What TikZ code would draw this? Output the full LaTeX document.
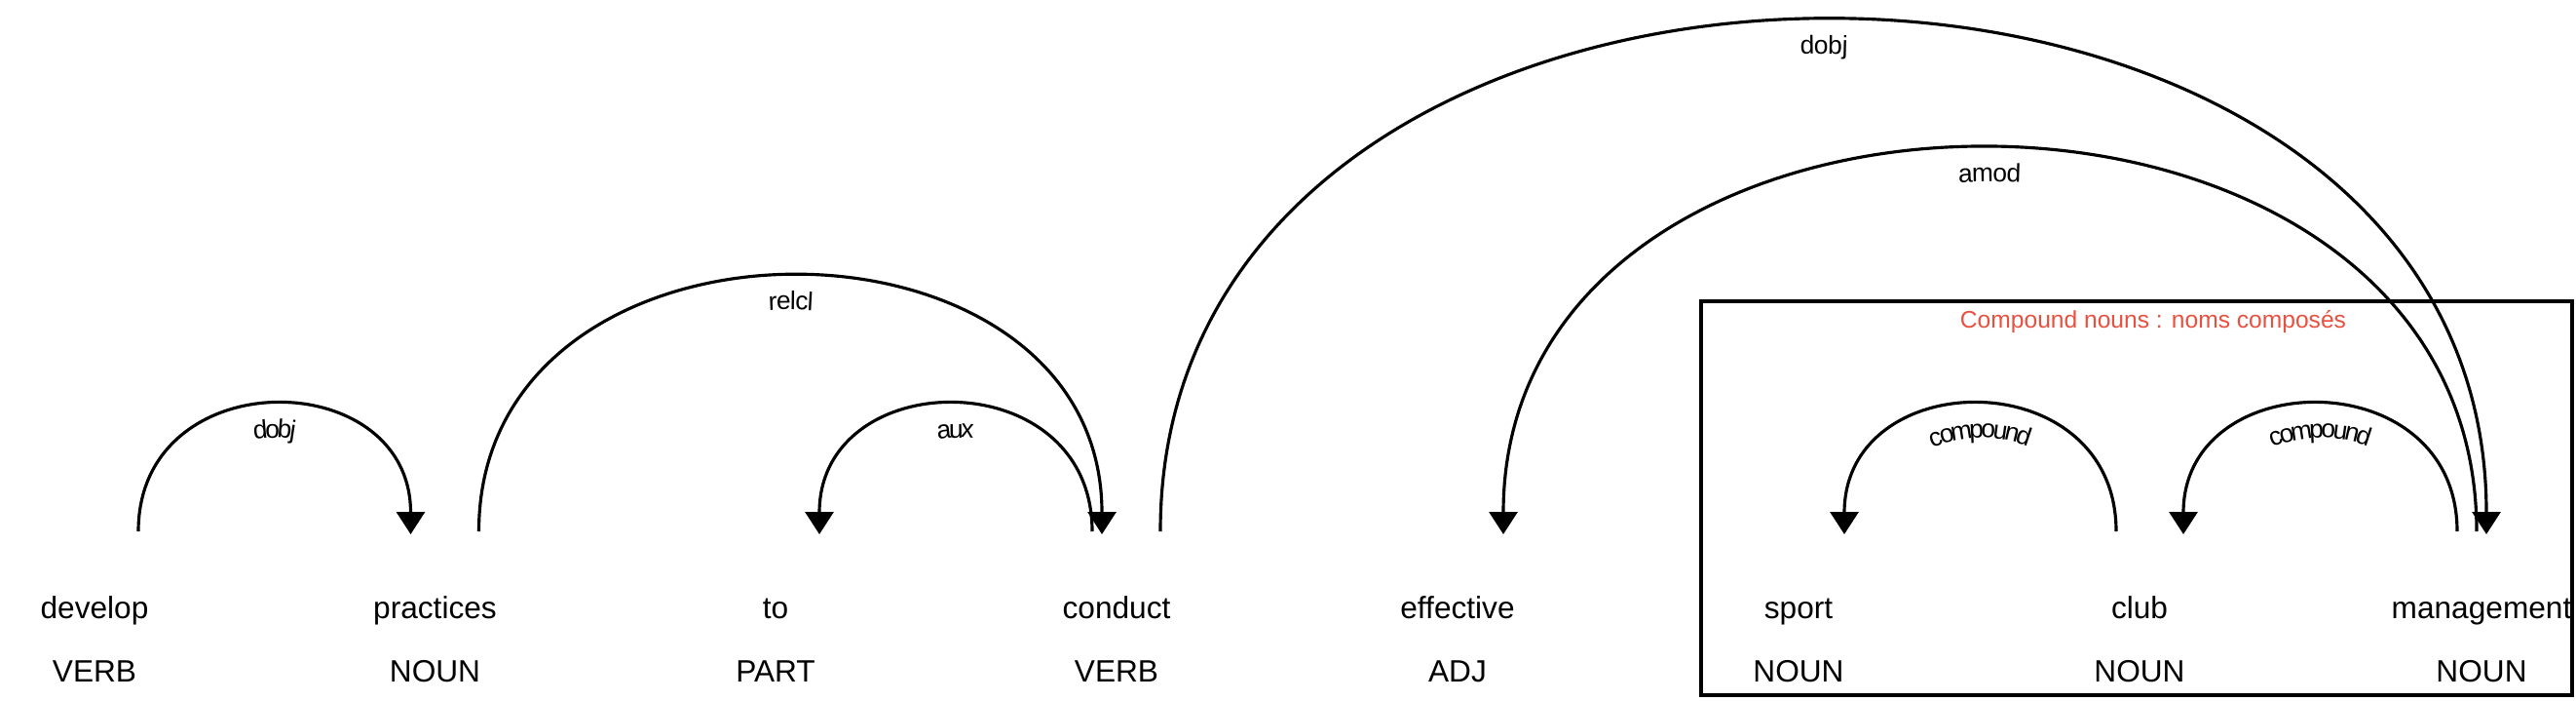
\documentclass[tikz,border=0pt]{standalone}
\usepackage{fontspec}
\setmainfont{Liberation Sans}
\usepackage{xcolor}
\usepackage{tikz}
\usetikzlibrary{arrows.meta, positioning, decorations.text}

\definecolor{cmpred}{HTML}{E8503F}

\begin{document}
\begin{tikzpicture}[
    word/.style={anchor=base, inner sep=0pt, font=\fontsize{9}{11}\selectfont},
    arc/.style={line width=0.9pt},
    lbl/.style={postaction={decorate, decoration={text along path,
        text align=center, raise=-9.6pt,
        text={|\fontsize{7.5}{8}\selectfont|#1}}}},
    >={Triangle[length=0.23cm, width=0.29cm]}
  ]
  \useasboundingbox (0,0) rectangle (26.44,7.18);
  % Tokens
  \node[word] (w1) at (0.97, 0.84) {develop};
  \node[word] (w2) at (4.465, 0.84) {practices};
  \node[word] (w3) at (7.96, 0.84) {to};
  \node[word] (w4) at (11.46, 0.84) {conduct};
  \node[word] (w5) at (14.96, 0.84) {effective};
  \node[word] (w6) at (18.46, 0.84) {sport};
  \node[word] (w7) at (21.96, 0.84) {club};
  \node[word] (w8) at (25.47, 0.84) {management};
  % Tags
  \node[word] (t1) at (0.97, 0.19) {VERB};
  \node[word] (t2) at (4.465, 0.19) {NOUN};
  \node[word] (t3) at (7.96, 0.19) {PART};
  \node[word] (t4) at (11.46, 0.19) {VERB};
  \node[word] (t5) at (14.96, 0.19) {ADJ};
  \node[word] (t6) at (18.46, 0.19) {NOUN};
  \node[word] (t7) at (21.96, 0.19) {NOUN};
  \node[word] (t8) at (25.47, 0.19) {NOUN};
  % Arc ends
  \coordinate (a1) at (1.42, 1.73);  \coordinate (b1) at (4.215, 1.70);
  \coordinate (a2) at (4.915, 1.73); \coordinate (b2) at (11.31, 1.70);
  \coordinate (a3) at (8.41, 1.70);  \coordinate (b3) at (11.21, 1.73);
  \coordinate (a4) at (11.91, 1.73); \coordinate (b4) at (25.52, 1.70);
  \coordinate (a5) at (15.43, 1.70); \coordinate (b5) at (25.42, 1.73);
  \coordinate (a6) at (18.93, 1.70); \coordinate (b6) at (21.72, 1.73);
  \coordinate (a7) at (22.41, 1.70); \coordinate (b7) at (25.22, 1.73);
  % Arcs
  \draw[arc, ->, lbl=dobj] (a1) .. controls +(0,1.75) and +(0,1.75) .. (b1);
  \draw[arc, ->, lbl=relcl] (a2) .. controls +(0,3.5) and +(0,3.5) .. (b2);
  \draw[arc, <-, lbl=aux] (a3) .. controls +(0,1.75) and +(0,1.75) .. (b3);
  \draw[arc, ->, lbl=dobj] (a4) .. controls +(0,7) and +(0,7) .. (b4);
  \draw[arc, <-, lbl=amod] (a5) .. controls +(0,5.25) and +(0,5.25) .. (b5);
  \draw[arc, <-, lbl=compound] (a6) .. controls +(0,1.75) and +(0,1.75) .. (b6);
  \draw[arc, <-, lbl=compound] (a7) .. controls +(0,1.75) and +(0,1.75) .. (b7);
  % Compound nouns box
  \draw[line width=1.1pt] (17.46,0.05) rectangle (26.40,4.09);
  \node[anchor=base, inner sep=0pt, text=cmpred, font=\fontsize{7}{8}\selectfont]
    (title) at (22.10, 3.82) {Compound nouns : noms composés};
\end{tikzpicture}
\end{document}
